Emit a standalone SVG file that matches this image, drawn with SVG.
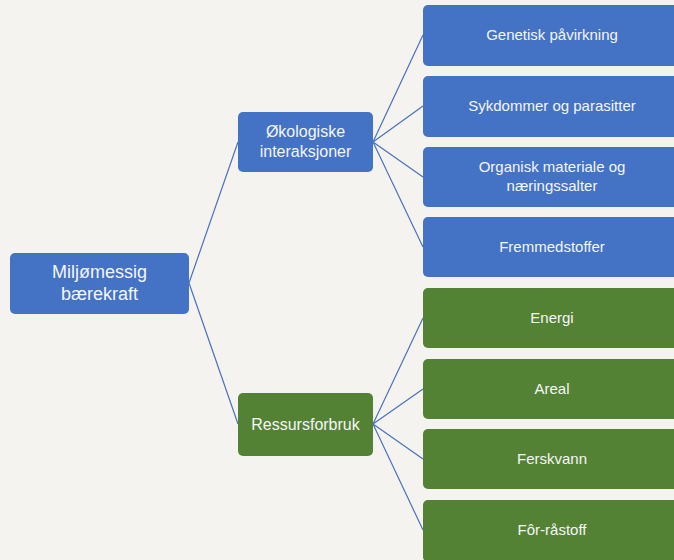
<svg xmlns="http://www.w3.org/2000/svg" width="674" height="560" viewBox="0 0 674 560">
<style>
.b{fill:#4472C4}
.g{fill:#548235}
text{font-family:"Liberation Sans",Arial,sans-serif;fill:#F4F6F8;text-anchor:middle}
.t1{font-size:18px}
.t2{font-size:16px}
.t3{font-size:15px}
.c{stroke:#4A72C0;stroke-width:1.2;fill:none}
</style>
<rect width="674" height="560" fill="#F4F3EF"/>
<g id="connectors" class="c">
<path d="M189,283 L238,142 M189,283 L238,424"/>
<path d="M373,142 L423,35 M373,142 L423,106 M373,142 L423,177 M373,142 L423,247"/>
<path d="M373,424 L423,318 M373,424 L423,389 M373,424 L423,459 M373,424 L423,530"/>
</g>
<g id="root"><rect class="b" x="10" y="253" width="179" height="61" rx="5"/><text class="t1" x="99.5" y="278">Miljømessig</text><text class="t1" x="99.5" y="300">bærekraft</text></g>
<g id="okologiske"><rect class="b" x="238" y="112" width="135" height="60" rx="5"/><text class="t2" x="305.5" y="137">Økologiske</text><text class="t2" x="305.5" y="157">interaksjoner</text></g>
<g id="ressurs"><rect class="g" x="238" y="393" width="135" height="63" rx="5"/><text class="t2" x="305.5" y="430">Ressursforbruk</text></g>
<g id="genetisk"><rect class="b" x="423" y="5" width="262" height="61" rx="5"/><text class="t3" x="552" y="40">Genetisk påvirkning</text></g>
<g id="sykdommer"><rect class="b" x="423" y="76" width="262" height="61" rx="5"/><text class="t3" x="552" y="111">Sykdommer og parasitter</text></g>
<g id="organisk"><rect class="b" x="423" y="147" width="262" height="60" rx="5"/><text class="t3" x="552" y="172">Organisk materiale og</text><text class="t3" x="552" y="191">næringssalter</text></g>
<g id="fremmed"><rect class="b" x="423" y="217" width="262" height="60" rx="5"/><text class="t3" x="552" y="252">Fremmedstoffer</text></g>
<g id="energi"><rect class="g" x="423" y="288" width="262" height="60" rx="5"/><text class="t3" x="552" y="323">Energi</text></g>
<g id="areal"><rect class="g" x="423" y="359" width="262" height="60" rx="5"/><text class="t3" x="552" y="394">Areal</text></g>
<g id="ferskvann"><rect class="g" x="423" y="429" width="262" height="60" rx="5"/><text class="t3" x="552" y="464">Ferskvann</text></g>
<g id="forrastoff"><rect class="g" x="423" y="500" width="262" height="62" rx="5"/><text class="t3" x="552" y="535">Fôr-råstoff</text></g>
</svg>
